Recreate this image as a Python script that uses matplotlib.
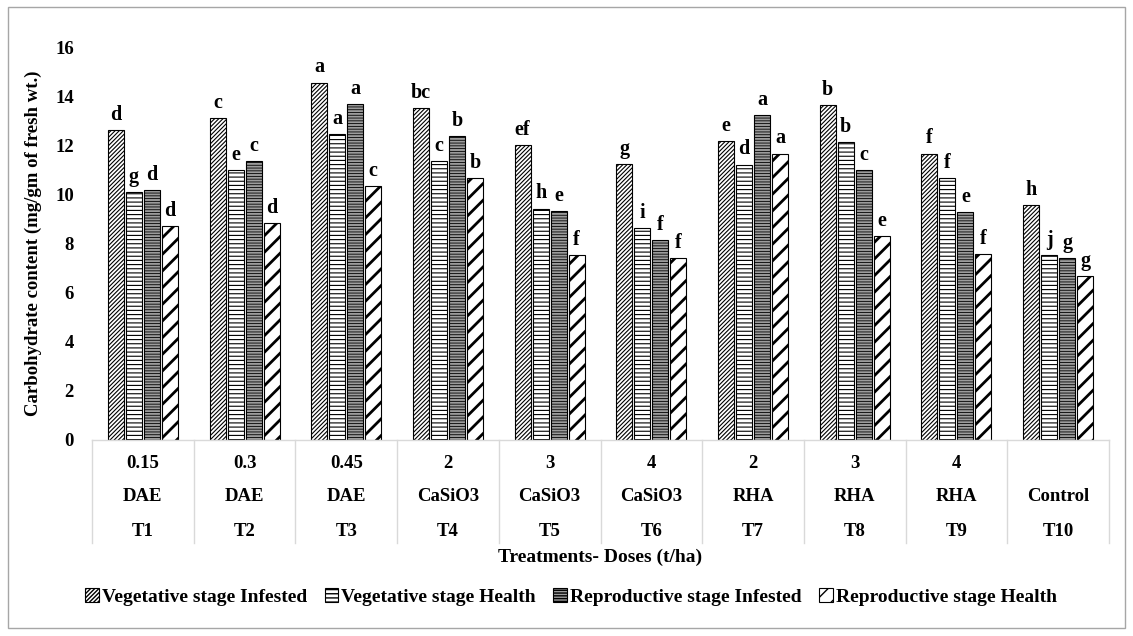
import numpy as np
import matplotlib
matplotlib.use("Agg")
import matplotlib.pyplot as plt
from matplotlib.patches import Rectangle

# data
doses = ["0.15", "0.3", "0.45", "2", "3", "4", "2", "3", "4", ""]
groups = ["DAE", "DAE", "DAE", "CaSiO3", "CaSiO3", "CaSiO3", "RHA", "RHA", "RHA", "Control"]
treatments = ["T1", "T2", "T3", "T4", "T5", "T6", "T7", "T8", "T9", "T10"]

veg_inf = [12.62, 13.11, 14.54, 13.52, 12.01, 11.24, 12.17, 13.64, 11.65, 9.57]
veg_hea = [10.10, 10.99, 12.46, 11.36, 9.41, 8.63, 11.20, 12.13, 10.67, 7.53]
rep_inf = [10.18, 11.36, 13.68, 12.38, 9.32, 8.14, 13.23, 10.99, 9.28, 7.41]
rep_hea = [8.71, 8.83, 10.34, 10.67, 7.53, 7.41, 11.65, 8.30, 7.57, 6.68]

let_vi = ["d", "c", "a", "bc", "ef", "g", "e", "b", "f", "h"]
let_vh = ["g", "e", "a", "c", "h", "i", "d", "b", "f", "j"]
let_ri = ["d", "c", "a", "b", "e", "f", "a", "c", "e", "g"]
let_rh = ["d", "d", "c", "b", "f", "f", "a", "e", "f", "g"]

series_names = ["Vegetative stage Infested", "Vegetative stage Health",
                "Reproductive stage Infested", "Reproductive stage Health"]

plt.rcParams["font.family"] = ["Liberation Serif", "DejaVu Serif"]
plt.rcParams["font.weight"] = "bold"

fig = plt.figure(figsize=(11.33, 6.36), dpi=100)
fig.patches.append(Rectangle((8 / 1133, 8 / 636), 1117 / 1133, 621 / 636,
                             transform=fig.transFigure, fill=False,
                             edgecolor="#a6a6a6", linewidth=1.0))
ax = fig.add_axes([92 / 1133, 196 / 636, 1017 / 1133, 393 / 636])

x = np.arange(len(treatments))
w = 0.157
step = 0.177
styles = [
    dict(hatch="////////", facecolor="white", hlw=0.8),
    dict(hatch="----", facecolor="white", hlw=0.8),
    dict(hatch="------", facecolor="#9c9c9c", hlw=0.6),
    dict(hatch="//", facecolor="white", hlw=2.0),
]
data = [veg_inf, veg_hea, rep_inf, rep_hea]
letters = [let_vi, let_vh, let_ri, let_rh]

handles = []
for i in range(4):
    st = styles[i]
    with plt.rc_context({"hatch.linewidth": st["hlw"]}):
        bars = ax.bar(x + (i - 1.5) * step, data[i], w, facecolor=st["facecolor"],
                      edgecolor="black", linewidth=0.8, hatch=st["hatch"],
                      label=series_names[i])
        for b in bars:
            if hasattr(b, "set_hatch_linewidth"):
                b.set_hatch_linewidth(st["hlw"])
    handles.append(bars)
    for xi, v, t in zip(x + (i - 1.5) * step, data[i], letters[i]):
        ax.text(xi, v + 0.22, t, ha="center", va="bottom", fontsize=14.5,
                fontweight="bold", clip_on=False)

ax.set_xlim(-0.5, len(treatments) - 0.5)
ax.set_ylim(0, 16)
ax.set_yticks(np.arange(0, 17, 2))
ax.tick_params(axis="y", length=0, pad=13, labelsize=13.5)
ax.set_xticks([])
for s in ax.spines.values():
    s.set_visible(False)

ax.set_ylabel("Carbohydrate content (mg/gm of fresh wt.)", fontsize=13.5,
              fontweight="bold")
ax.yaxis.set_label_coords(-0.049, 0.5)

# category table under the axis
tr = ax.get_xaxis_transform()
ax.plot([-0.5, len(treatments) - 0.5], [0, 0], color="#d9d9d9", lw=1,
        transform=tr, clip_on=False)
for b in np.arange(-0.5, len(treatments), 1.0):
    ax.plot([b, b], [0, -0.262], color="#d9d9d9", lw=1, transform=tr, clip_on=False)
for xi in x:
    ax.text(xi, -0.059, doses[xi], ha="center", va="center", fontsize=13.5,
            fontweight="bold", transform=tr)
    ax.text(xi, -0.145, groups[xi], ha="center", va="center", fontsize=13.5,
            fontweight="bold", transform=tr)
    ax.text(xi, -0.234, treatments[xi], ha="center", va="center", fontsize=13.5,
            fontweight="bold", transform=tr)

fig.text(600 / 1133, 1 - 557 / 636, "Treatments- Doses (t/ha)", ha="center",
         va="center", fontsize=14, fontweight="bold")

fig.legend(handles=handles, labels=series_names, loc="center",
           bbox_to_anchor=(571 / 1133, 1 - 597 / 636), ncol=4, frameon=False,
           handlelength=0.7, handleheight=0.7, handletextpad=0.15,
           columnspacing=0.9, prop={"weight": "bold", "size": 14})

fig.savefig("out.png", dpi=100)
